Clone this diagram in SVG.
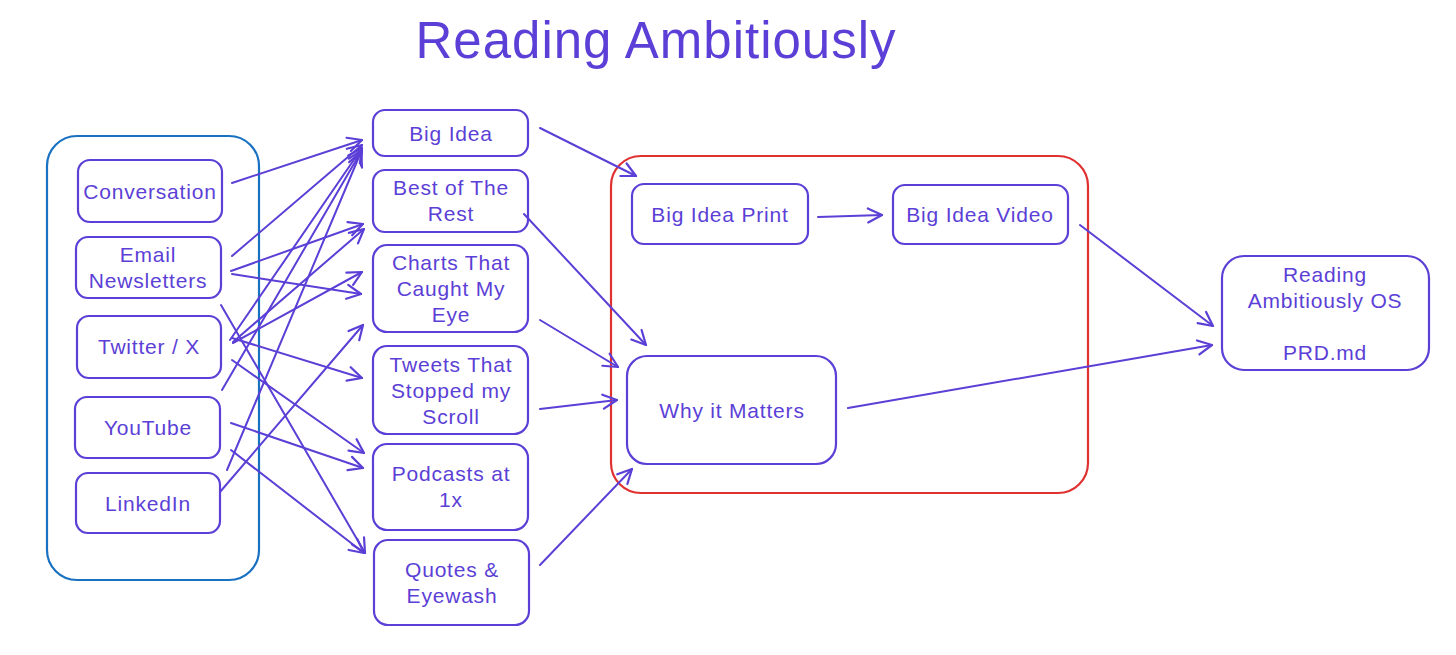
<svg xmlns="http://www.w3.org/2000/svg" width="1456" height="655" viewBox="0 0 1456 655">
<defs>
<marker id="ah" markerUnits="userSpaceOnUse" markerWidth="18" markerHeight="18" viewBox="0 0 18 18" refX="16" refY="9" orient="auto">
<path d="M2,2 L16,9 L2,16" fill="none" stroke="#5b3fd6" stroke-width="2.2" stroke-linecap="round" stroke-linejoin="round"/>
</marker>
<style>
.n{fill:#fff;stroke:#5b3fd6;stroke-width:2.2}
.t{font-family:"Liberation Sans",Arial,sans-serif;font-size:21px;letter-spacing:0.8px;fill:#5b3fd6;text-anchor:middle;dominant-baseline:central}
.c line{stroke:#5b3fd6;stroke-width:2;stroke-linecap:round;marker-end:url(#ah)}
</style>
</defs>
<rect width="1456" height="655" fill="#fff"/>
<text x="656" y="40" style="font-family:'Liberation Sans',Arial,sans-serif;font-size:51px;letter-spacing:1px;fill:#5b3fd6;text-anchor:middle;dominant-baseline:central">Reading Ambitiously</text>

<g id="sources-group"><rect x="47" y="136" width="212" height="444" rx="30" fill="none" stroke="#1971c2" stroke-width="2.2"/></g>
<g id="outputs-group"><rect x="611" y="156" width="477" height="337" rx="30" fill="none" stroke="#e03131" stroke-width="2.2"/></g>

<g id="conversation"><rect class="n" x="78" y="160" width="144" height="62" rx="12"/><text class="t" x="150" y="191">Conversation</text></g>
<g id="email"><rect class="n" x="76" y="237" width="145" height="61" rx="12"/><text class="t" x="148" y="254">Email</text><text class="t" x="148" y="280">Newsletters</text></g>
<g id="twitter"><rect class="n" x="77" y="316" width="144" height="62" rx="12"/><text class="t" x="149" y="346">Twitter / X</text></g>
<g id="youtube"><rect class="n" x="75" y="397" width="145" height="61" rx="12"/><text class="t" x="148" y="427">YouTube</text></g>
<g id="linkedin"><rect class="n" x="76" y="473" width="144" height="60" rx="12"/><text class="t" x="148" y="503">LinkedIn</text></g>

<g id="big-idea"><rect class="n" x="373" y="110" width="155" height="46" rx="12"/><text class="t" x="451" y="133">Big Idea</text></g>
<g id="best-of-rest"><rect class="n" x="373" y="170" width="155" height="62" rx="12"/><text class="t" x="451" y="187">Best of The</text><text class="t" x="451" y="213">Rest</text></g>
<g id="charts"><rect class="n" x="373" y="245" width="155" height="87" rx="14"/><text class="t" x="451" y="262">Charts That</text><text class="t" x="451" y="288">Caught My</text><text class="t" x="451" y="314">Eye</text></g>
<g id="tweets"><rect class="n" x="373" y="346" width="155" height="88" rx="14"/><text class="t" x="451" y="364">Tweets That</text><text class="t" x="451" y="390">Stopped my</text><text class="t" x="451" y="416">Scroll</text></g>
<g id="podcasts"><rect class="n" x="373" y="444" width="155" height="86" rx="14"/><text class="t" x="451" y="473">Podcasts at</text><text class="t" x="451" y="499">1x</text></g>
<g id="quotes"><rect class="n" x="374" y="540" width="155" height="85" rx="14"/><text class="t" x="452" y="569">Quotes &amp;</text><text class="t" x="452" y="595">Eyewash</text></g>

<g id="big-idea-print"><rect class="n" x="632" y="184" width="176" height="60" rx="12"/><text class="t" x="720" y="214">Big Idea Print</text></g>
<g id="big-idea-video"><rect class="n" x="893" y="185" width="175" height="59" rx="12"/><text class="t" x="980" y="214">Big Idea Video</text></g>
<g id="why-it-matters"><rect class="n" x="627" y="356" width="209" height="108" rx="20"/><text class="t" x="732" y="410">Why it Matters</text></g>
<g id="reading-os"><rect class="n" x="1222" y="256" width="207" height="114" rx="22"/><text class="t" x="1325" y="274">Reading</text><text class="t" x="1325" y="300">Ambitiously OS</text><text class="t" x="1325" y="352">PRD.md</text></g>

<g id="connectors" class="c">
<line x1="232" y1="183" x2="362" y2="140"/>
<line x1="232" y1="256" x2="362" y2="145"/>
<line x1="231" y1="271" x2="363" y2="224"/>
<line x1="232" y1="274" x2="361" y2="294"/>
<line x1="221" y1="305" x2="365" y2="553"/>
<line x1="230" y1="340" x2="362" y2="148"/>
<line x1="233" y1="342" x2="364" y2="229"/>
<line x1="233" y1="343" x2="362" y2="272"/>
<line x1="232" y1="338" x2="362" y2="378"/>
<line x1="232" y1="360" x2="364" y2="453"/>
<line x1="222" y1="390" x2="362" y2="150"/>
<line x1="231" y1="423" x2="363" y2="468"/>
<line x1="231" y1="450" x2="364" y2="553"/>
<line x1="227" y1="470" x2="361" y2="152"/>
<line x1="220" y1="492" x2="363" y2="325"/>
<line x1="540" y1="128" x2="636" y2="176"/>
<line x1="524" y1="214" x2="646" y2="345"/>
<line x1="540" y1="320" x2="618" y2="367"/>
<line x1="540" y1="409" x2="617" y2="400"/>
<line x1="540" y1="565" x2="632" y2="469"/>
<line x1="818" y1="217" x2="882" y2="215"/>
<line x1="1080" y1="225" x2="1213" y2="326"/>
<line x1="848" y1="408" x2="1212" y2="345"/>
</g>
</svg>
